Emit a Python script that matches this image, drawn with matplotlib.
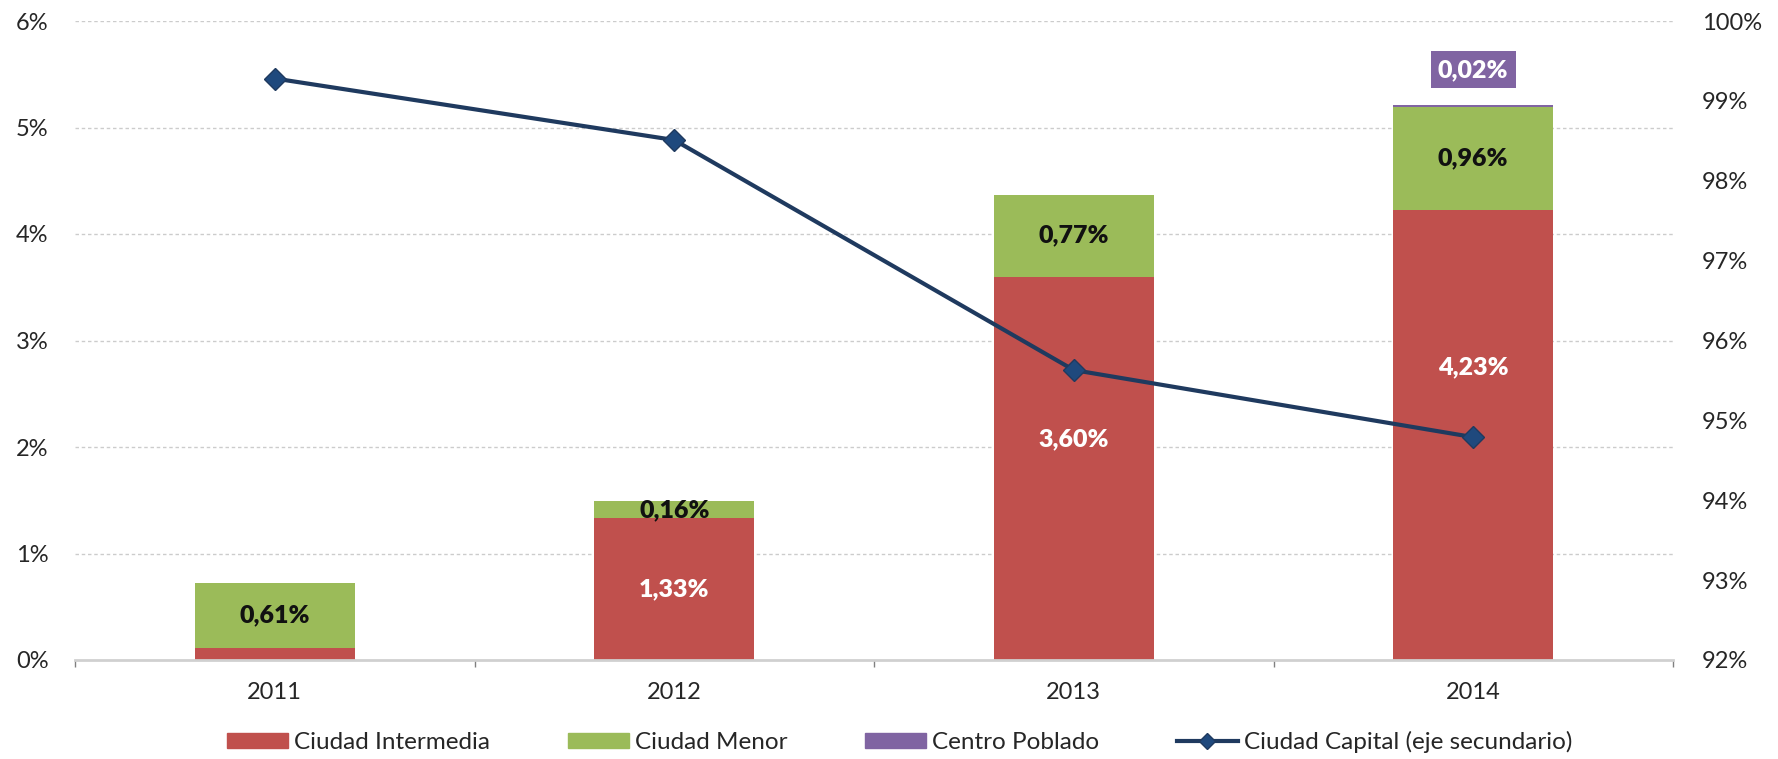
import matplotlib
matplotlib.use("Agg")
import matplotlib.pyplot as plt
from matplotlib.patches import Patch
from matplotlib.lines import Line2D
from matplotlib.ticker import FuncFormatter, FixedLocator

# ---------------- data ----------------
years = ["2011", "2012", "2013", "2014"]
intermedia = [0.11, 1.33, 3.60, 4.23]
menor = [0.61, 0.16, 0.77, 0.96]
centro = [0.00, 0.00, 0.00, 0.02]
capital = [99.28, 98.51, 95.63, 94.79]

intermedia_labels = [None, "1,33%", "3,60%", "4,23%"]
menor_labels = ["0,61%", "0,16%", "0,77%", "0,96%"]
centro_labels = [None, None, None, "0,02%"]

left_ticks = [0, 1, 2, 3, 4, 5, 6]
right_ticks = [92, 93, 94, 95, 96, 97, 98, 99, 100]

series_names = ["Ciudad Intermedia", "Ciudad Menor", "Centro Poblado",
                "Ciudad Capital (eje secundario)"]

# ---------------- style ----------------
C_RED = "#C0504D"
C_GREEN = "#9BBB59"
C_PURPLE = "#8064A2"
C_LINE = "#1F3A5F"
C_TEXT = "#262626"
FONT = ["Lato", "DejaVu Sans"]
plt.rcParams["font.family"] = FONT

W, H = 1778, 759
fig = plt.figure(figsize=(W / 100, H / 100), dpi=100)
x0, x1, ytop, ybot = 75, 1673, 21, 660
ax = fig.add_axes([x0 / W, 1 - ybot / H, (x1 - x0) / W, (ybot - ytop) / H])

x = list(range(len(years)))
bw = 0.40

# bars
ax.bar(x, intermedia, bw, color=C_RED, zorder=3)
bottom2 = intermedia
ax.bar(x, menor, bw, bottom=bottom2, color=C_GREEN, zorder=3)
bottom3 = [a + b for a, b in zip(intermedia, menor)]
ax.bar(x, centro, bw, bottom=bottom3, color=C_PURPLE, zorder=3)

ax.set_xlim(-0.5, len(years) - 0.5)
ax.set_ylim(left_ticks[0], left_ticks[-1])

LBL = 18
# label placement (fraction of the segment height)
red_frac = [0.5, 0.5, 0.575, 0.65]
for i in x:
    if intermedia_labels[i]:
        ax.text(i, intermedia[i] * red_frac[i], intermedia_labels[i], ha="center",
                va="center", color="white", fontsize=LBL, fontweight="heavy", zorder=5)
    if menor_labels[i]:
        ax.text(i, intermedia[i] + menor[i] / 2, menor_labels[i], ha="center",
                va="center", color="#111111", fontsize=LBL, fontweight="heavy", zorder=5)
    if centro_labels[i]:
        ax.text(i, bottom3[i] + centro[i] + 0.33, centro_labels[i], ha="center",
                va="center", color="white", fontsize=LBL, fontweight="heavy", zorder=5,
                bbox=dict(boxstyle="square,pad=0.3", fc=C_PURPLE, ec="none"))

# axes styling
for s in ["left", "right", "top"]:
    ax.spines[s].set_visible(False)
ax.spines["bottom"].set_color("#D0D0D0")
ax.spines["bottom"].set_linewidth(2.0)
ax.spines["bottom"].set_zorder(4)

TK = 17
ax.yaxis.set_major_locator(FixedLocator(left_ticks))
ax.yaxis.set_major_formatter(FuncFormatter(lambda v, p: f"{v:.0f}%"))
ax.tick_params(axis="y", length=0, pad=19, labelsize=TK, labelcolor=C_TEXT)
for t in left_ticks[1:]:
    ax.axhline(t, color="#CCCCCC", lw=1.0, dashes=(2.5, 2.0), zorder=1)

ax.set_xticks(x)
ax.set_xticklabels(years)
ax.tick_params(axis="x", which="major", length=0, pad=16, labelsize=TK, labelcolor=C_TEXT)
ax.set_xticks([i - 0.5 for i in range(len(years) + 1)], minor=True)
ax.tick_params(axis="x", which="minor", length=5, width=1, color="#808080", direction="out")

# secondary axis line
ax2 = ax.twinx()
ax2.plot(x, capital, color=C_LINE, lw=3, marker="D", markersize=11,
         markerfacecolor="#1F497D", markeredgecolor=C_LINE, zorder=6)
ax2.set_ylim(right_ticks[0], right_ticks[-1])
ax2.yaxis.set_major_locator(FixedLocator(right_ticks))
ax2.yaxis.set_major_formatter(FuncFormatter(lambda v, p: f"{v:.0f}%"))
ax2.tick_params(axis="y", length=0, pad=21, labelsize=TK, labelcolor=C_TEXT)
for s in ["left", "right", "top", "bottom"]:
    ax2.spines[s].set_visible(False)

# legend
handles = [
    Patch(color=C_RED),
    Patch(color=C_GREEN),
    Patch(color=C_PURPLE),
    Line2D([0], [0], color=C_LINE, lw=3, marker="D", markersize=8,
           markerfacecolor="#1F497D", markeredgecolor=C_LINE),
]
fig.legend(handles, series_names, loc="center", bbox_to_anchor=(0.506, 0.022),
           ncol=4, frameon=False, fontsize=17.5, handlelength=2.5, handleheight=0.6,
           handletextpad=0.25, columnspacing=3.2, labelcolor=C_TEXT)

fig.savefig("out.png", dpi=100, facecolor="white")
